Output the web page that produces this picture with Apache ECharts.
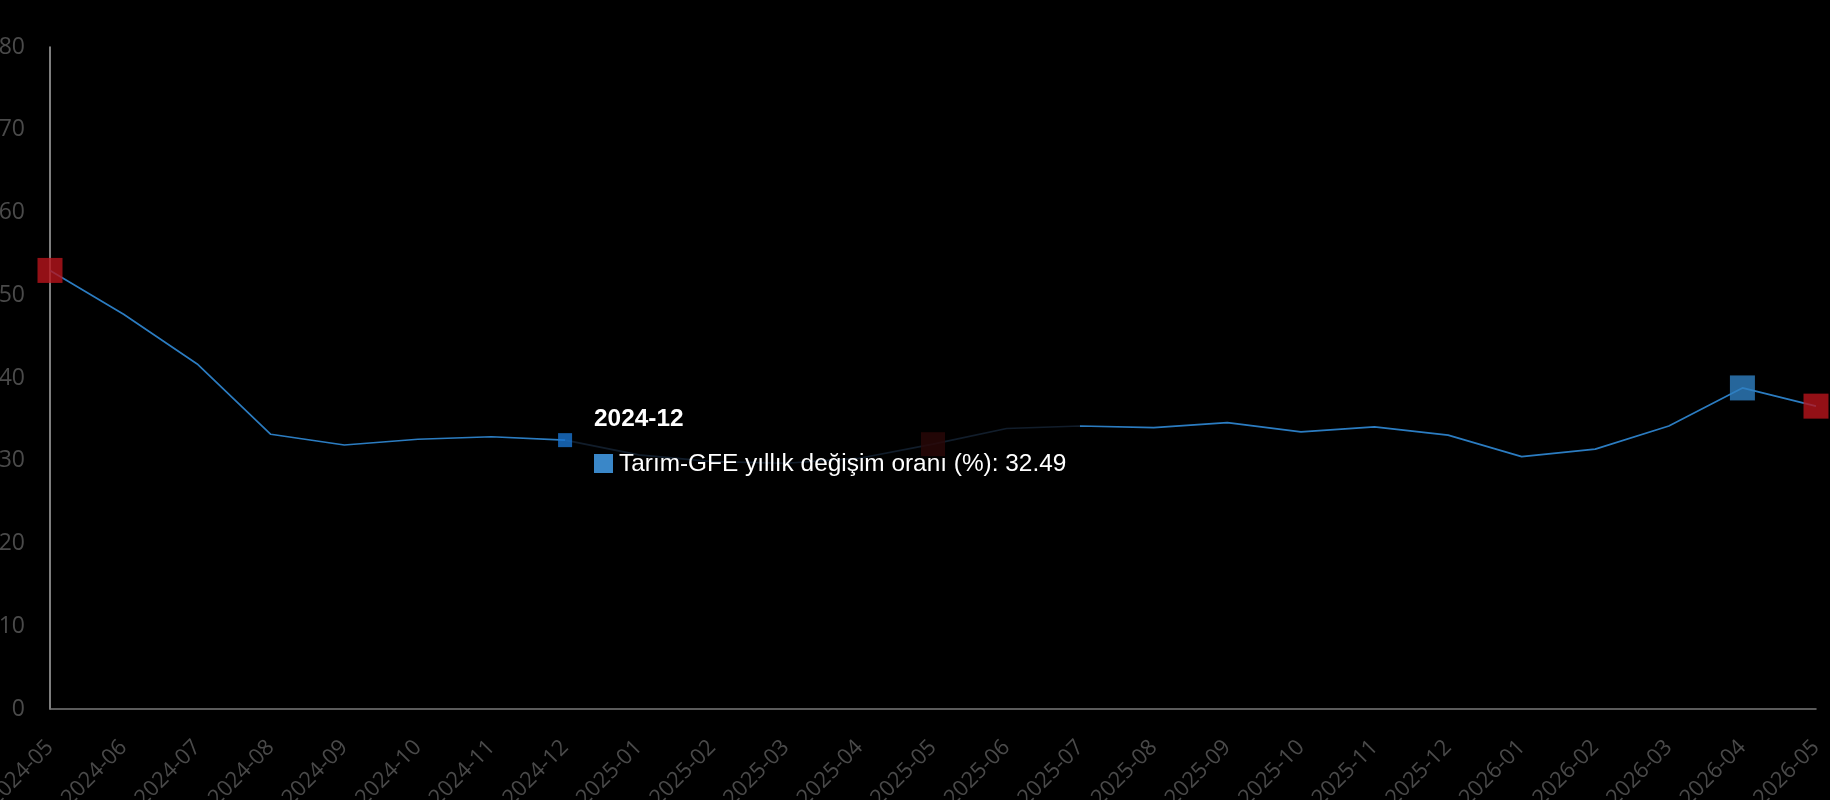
<!DOCTYPE html>
<html>
<head>
<meta charset="utf-8">
<script src="https://cdn.jsdelivr.net/npm/echarts@6/dist/echarts.min.js"></script>
<style>
html,body{margin:0;padding:0;background:#000;}
#chart{width:1830px;height:800px;}
</style>
</head>
<body>
<div id="chart"></div>
<script>
const categories = ['2024-05','2024-06','2024-07','2024-08','2024-09','2024-10','2024-11','2024-12',
  '2025-01','2025-02','2025-03','2025-04','2025-05','2025-06','2025-07','2025-08','2025-09','2025-10',
  '2025-11','2025-12','2026-01','2026-02','2026-03','2026-04','2026-05'];
const seriesName = 'Tarım-GFE yıllık değişim oranı (%)';
const values = [53.0,47.7,41.7,33.2,31.9,32.6,32.9,32.49,30.7,29.9,29.7,30.3,32.0,33.9,34.2,34.0,34.6,33.5,34.1,33.1,30.5,31.4,34.2,38.8,36.6];
const yTicks = [0,10,20,30,40,50,60,70,80];
// highlighted points: index into categories
const markIndex = [0, 7, 12, 23, 24];
const markColor = ['#b8141c', '#1a74cf', '#2a0707', '#2f80c2', '#b8141c'];
const markSize = [25, 14, 24, 25, 25];
const tipIndex = 7;

const chart = echarts.init(document.getElementById('chart'), null, {renderer: 'canvas'});

const scatterData = markIndex.map((k, i) => ({
  value: [categories[k], values[k]],
  symbolSize: markSize[i],
  itemStyle: {color: markColor[i]}
}));

const option = {
  backgroundColor: '#000',
  animation: false,
  grid: {left: 50, right: 14, top: 47, bottom: 91, outerBoundsMode: 'none', containLabel: false},
  tooltip: {
    trigger: 'item',
    triggerOn: 'none',
    alwaysShowContent: true,
    backgroundColor: 'rgba(0,0,0,0)',
    borderWidth: 0,
    padding: 0,
    extraCssText: 'box-shadow:none;',
    position: [594, 403],
    formatter: function (p) {
      const k = markIndex[p.dataIndex];
      return '<div style="font-family:\'Liberation Sans\',Arial,sans-serif;color:#fff;">' +
        '<div style="font-weight:bold;font-size:24.4px;line-height:30px;">' + categories[k] + '</div>' +
        '<div style="font-size:24.4px;line-height:30px;margin-top:15px;white-space:nowrap;">' +
        '<span style="display:inline-block;width:19px;height:19px;background:#3a87c8;margin-right:6px;vertical-align:-2px;"></span>' +
        seriesName + ': ' + values[k].toFixed(2) + '</div></div>';
    }
  },
  visualMap: {
    show: false,
    type: 'piecewise',
    dimension: 0,
    seriesIndex: 0,
    pieces: [
      {min: 0, max: 7, color: '#2b7cc1'},
      {gt: 7, lt: 14, color: '#111d2b'},
      {min: 14, max: 24, color: '#2b7cc1'}
    ]
  },
  xAxis: {
    type: 'category',
    data: categories,
    boundaryGap: false,
    axisLine: {lineStyle: {color: '#7a7a7a', width: 1.5}},
    axisTick: {show: false},
    splitLine: {show: false},
    axisLabel: {
      rotate: 45,
      interval: 0,
      margin: 35,
      color: '#4a4a4a',
      fontSize: 22,
      fontFamily: 'Open Sans'
    }
  },
  yAxis: {
    type: 'value',
    min: yTicks[0],
    max: yTicks[yTicks.length - 1],
    interval: 10,
    axisLine: {show: true, lineStyle: {color: '#a8a8a8', width: 1.5}},
    axisTick: {show: false},
    splitLine: {show: false},
    axisLabel: {
      margin: 25,
      color: '#4a4a4a',
      fontSize: 23,
      fontFamily: 'Open Sans'
    }
  },
  series: [
    {
      name: seriesName,
      type: 'line',
      data: values,
      showSymbol: false,
      symbol: 'rect',
      lineStyle: {width: 1.7},
      emphasis: {disabled: true},
      z: 2
    },
    {
      name: seriesName,
      type: 'scatter',
      symbol: 'rect',
      data: scatterData,
      emphasis: {disabled: true},
      z: 3
    }
  ]
};

chart.setOption(option);
chart.dispatchAction({type: 'showTip', seriesIndex: 1, dataIndex: markIndex.indexOf(tipIndex)});
</script>
</body>
</html>
